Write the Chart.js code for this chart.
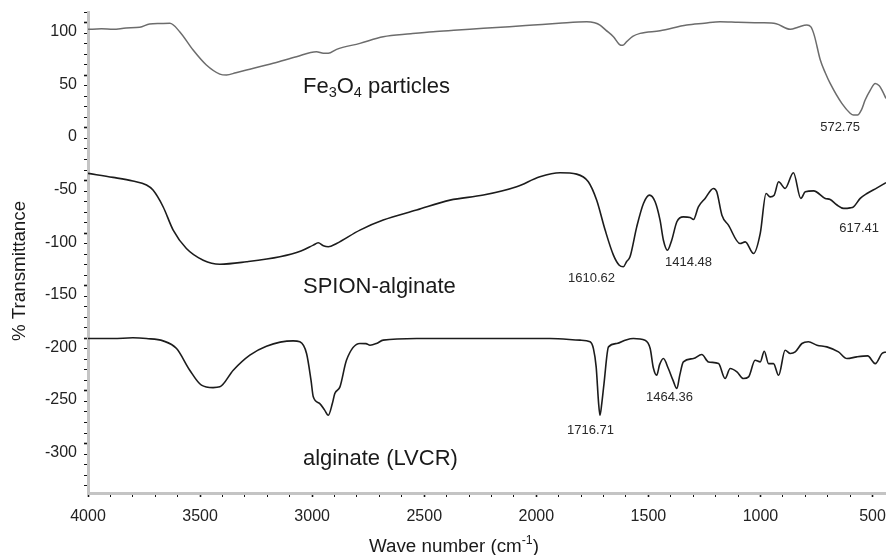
<!DOCTYPE html>
<html>
<head>
<meta charset="utf-8">
<script src="https://cdn.jsdelivr.net/npm/chart.js@4.4.1/dist/chart.umd.min.js"></script>
<style>
  html, body { margin: 0; padding: 0; background: #fff; }
  canvas { display: block; }
</style>
</head>
<body>
<canvas id="ftir" width="886" height="555"></canvas>
<script>
// wave numbers (cm-1) and % transmittance (spectra are offset)
const fe3o4Wn = [4000, 3940, 3888, 3830, 3769, 3725, 3680, 3635, 3591, 3531, 3472, 3412, 3382, 3340, 3293, 3174, 3070, 2981, 2950, 2928, 2891, 2787, 2683, 2560, 2460, 2350, 2236, 2120, 2013, 1900, 1775, 1740, 1716, 1690, 1656, 1630, 1615, 1597, 1570, 1537, 1448, 1329, 1250, 1180, 1100, 1001, 930, 867, 830, 793, 775, 760, 733, 710, 689, 637, 600, 585, 567, 550, 533, 510, 488, 470, 458, 440];
const fe3o4T = [93.7, 94.2, 93.7, 95, 95.6, 98.8, 99.2, 99.4, 91.5, 74, 59.8, 51.2, 50.3, 52.5, 55, 61.4, 67.7, 72.5, 71, 70.9, 74.7, 80.4, 86.7, 89.5, 91.5, 93, 94.7, 96.2, 97.8, 99.5, 101, 100, 97.8, 93, 86.7, 79.5, 78.5, 82, 87, 89.9, 92.4, 97.8, 99.5, 101, 100.5, 100, 99, 93.7, 96, 97.8, 96, 88, 64.5, 52, 42.3, 23.3, 14, 12.2, 12.2, 17, 26.5, 36, 42.3, 40, 36, 28];

const spionWn = [4000, 3888, 3800, 3739, 3710, 3665, 3620, 3561, 3486, 3412, 3293, 3144, 3050, 2995, 2973, 2950, 2928, 2891, 2787, 2683, 2534, 2385, 2236, 2088, 1984, 1894, 1820, 1768, 1731, 1693, 1656, 1630, 1612, 1597, 1582, 1552, 1522, 1495, 1470, 1448, 1433, 1415, 1396, 1373, 1344, 1314, 1299, 1277, 1247, 1210, 1195, 1172, 1143, 1091, 1068, 1031, 1001, 975, 957, 939, 919, 890, 853, 820, 800, 763, 711, 689, 660, 629, 600, 585, 555, 525, 480, 440];
const spionT = [-43.2, -47, -50.5, -54.3, -59.1, -74.9, -97.1, -114.6, -125.7, -129.5, -127.2, -122.5, -117, -111.4, -109.2, -112, -113, -109.8, -97.1, -87.6, -78.1, -68.6, -63.8, -55.9, -46.4, -42.6, -43.9, -51.2, -68.6, -97.1, -120.9, -130.5, -132, -127, -122.5, -94, -71.8, -63.9, -70.2, -87.7, -106.7, -116.2, -106.7, -89.2, -84.5, -85.1, -87, -75, -67, -57.5, -60.7, -82.9, -92.4, -109.9, -108.3, -119.4, -100.3, -62.3, -65.5, -63.9, -51.2, -57.5, -42.6, -67, -60.7, -59.8, -67, -68, -73, -76.5, -76, -75, -67, -62.3, -57, -52];

const alginateWn = [4000, 3888, 3800, 3739, 3665, 3605, 3546, 3494, 3442, 3412, 3352, 3278, 3204, 3085, 3055, 3025, 3005, 2995, 2966, 2945, 2928, 2910, 2899, 2876, 2847, 2787, 2760, 2742, 2713, 2683, 2534, 2236, 1939, 1805, 1760, 1745, 1733, 1722, 1716, 1708, 1698, 1678, 1641, 1600, 1567, 1515, 1492, 1478, 1463, 1450, 1433, 1411, 1390, 1373, 1360, 1344, 1299, 1262, 1232, 1187, 1158, 1135, 1105, 1076, 1053, 1024, 1001, 983, 964, 942, 919, 890, 867, 845, 815, 786, 748, 704, 652, 614, 570, 522, 488, 458, 440];
const alginateT = [-200.2, -200.2, -199.5, -200.2, -202.4, -209.7, -230.3, -244.5, -246.8, -246.1, -230.3, -216, -207.4, -202.4, -203.3, -214.4, -240, -255.6, -262, -268, -273.1, -262, -252.5, -246.1, -220.8, -204.9, -205, -206.5, -204.9, -201.7, -200.2, -200.2, -200.2, -201.7, -203.3, -210, -227.1, -262, -273.1, -262, -243, -208.1, -204.9, -201.5, -200.2, -201.8, -209.7, -228, -235.1, -225, -219.2, -228.7, -240, -247.7, -235, -222.4, -219.2, -215.4, -222.4, -224, -238.2, -228.7, -231.9, -238.2, -236.6, -220.8, -222.4, -212.2, -224, -224, -235.1, -211.3, -214.4, -212.9, -204.9, -203.3, -206.5, -208.1, -212.9, -219.2, -217.6, -216.7, -224, -214.4, -212.9];

// text placed on the plot: [text, wave number, transmittance]
const peakLabels = [
  ['572.75', 645, 0.8],
  ['1610.62', 1754, -142.8],
  ['1414.48', 1321, -127.6],
  ['617.41', 560, -95.2],
  ['1716.71', 1758, -287.3],
  ['1464.36', 1406, -255.9]
];
const sampleLabels = [
  [[['Fe', 0], ['3', 1], ['O', 0], ['4', 1], [' particles', 0]], 3041, 38.9],
  [[['SPION-alginate', 0]], 3041, -151.3],
  [[['alginate (LVCR)', 0]], 3041, -315]
];

const FONT = '"Liberation Sans", Arial, Helvetica, sans-serif';

function toPoints(xs, ys) {
  return xs.map((x, i) => ({ x: x, y: ys[i] }));
}

// draws runs of text, shift 1 = subscript, -1 = superscript
function drawRuns(ctx, runs, x, y, size) {
  let cx = x;
  runs.forEach(([txt, shift]) => {
    const s = shift ? size * 0.66 : size;
    ctx.font = s + 'px ' + FONT;
    const dy = shift === 1 ? size * 0.28 : shift === -1 ? -size * 0.42 : 0;
    ctx.fillText(txt, cx, y + dy);
    cx += ctx.measureText(txt).width;
  });
}

const textPlugin = {
  id: 'texts',
  afterDraw(chart) {
    const ctx = chart.ctx;
    const xs = chart.scales.x, ys = chart.scales.y;
    ctx.save();
    ctx.fillStyle = '#1a1a1a';
    ctx.textBaseline = 'middle';
    ctx.textAlign = 'left';
    sampleLabels.forEach(([runs, wn, t]) => {
      drawRuns(ctx, runs, xs.getPixelForValue(wn), ys.getPixelForValue(t), 22);
    });
    ctx.fillStyle = '#2a2a2a';
    ctx.textAlign = 'center';
    ctx.font = '13px ' + FONT;
    peakLabels.forEach(([txt, wn, t]) => {
      ctx.fillText(txt, xs.getPixelForValue(wn), ys.getPixelForValue(t));
    });

    // axis titles
    ctx.fillStyle = '#1a1a1a';
    ctx.textAlign = 'left';
    ctx.textBaseline = 'alphabetic';
    const xt = [['Wave number (cm', 0], ['-1', -1], [')', 0]];
    let w = 0;
    xt.forEach(([txt, shift]) => {
      ctx.font = (shift ? 18.8 * 0.66 : 18.8) + 'px ' + FONT;
      w += ctx.measureText(txt).width;
    });
    drawRuns(ctx, xt, 454 - w / 2, 552, 18.8);

    ctx.translate(25, 271);
    ctx.rotate(-Math.PI / 2);
    ctx.textAlign = 'center';
    ctx.font = '18.8px ' + FONT;
    ctx.fillText('% Transmittance', 0, 0);
    ctx.restore();
  }
};

const tickStyle = {
  color: '#222',
  font: { family: FONT, size: 16 },
  autoSkip: false,
  maxRotation: 0,
  maxTicksLimit: 1000,
  includeBounds: false
};

new Chart(document.getElementById('ftir').getContext('2d'), {
  type: 'line',
  data: {
    datasets: [
      { data: toPoints(fe3o4Wn, fe3o4T), borderColor: '#6c6c6c', borderWidth: 1.5 },
      { data: toPoints(spionWn, spionT), borderColor: '#1c1c1c', borderWidth: 1.6 },
      { data: toPoints(alginateWn, alginateT), borderColor: '#1c1c1c', borderWidth: 1.6 }
    ]
  },
  options: {
    responsive: false,
    animation: false,
    devicePixelRatio: 1,
    layout: { padding: { top: 12, right: 0, left: 0, bottom: 0 } },
    elements: {
      point: { radius: 0 },
      line: { cubicInterpolationMode: 'monotone' }
    },
    plugins: { legend: { display: false }, tooltip: { enabled: false } },
    scales: {
      x: {
        type: 'linear',
        reverse: true,
        min: 440,
        max: 4000,
        afterFit(scale) {
          scale.height = 62;
          scale.paddingLeft = 0;
          scale.paddingRight = 0;
        },
        ticks: Object.assign({}, tickStyle, {
          stepSize: 100,
          padding: 10,
          callback: v => (v % 500 === 0 ? String(v) : '')
        }),
        grid: {
          drawOnChartArea: false,
          tickLength: 4,
          tickColor: '#111',
          tickWidth: c => (c.tick && c.tick.value % 500 === 0 ? 1.6 : 1)
        },
        border: { color: '#c4c4c4', width: 3 }
      },
      y: {
        min: -347,
        max: 110.2,
        afterFit(scale) {
          scale.width = 88;
          scale.paddingTop = 0;
          scale.paddingBottom = 0;
        },
        ticks: Object.assign({}, tickStyle, {
          stepSize: 10,
          padding: 7,
          labelOffset: 9,
          callback: v => (v % 50 === 0 ? String(v) : '')
        }),
        grid: {
          drawOnChartArea: false,
          tickLength: 4,
          tickColor: '#111',
          tickWidth: c => (c.tick && c.tick.value % 50 === 0 ? 1.6 : 1)
        },
        border: { color: '#c4c4c4', width: 3 }
      }
    }
  },
  plugins: [textPlugin]
});
</script>
</body>
</html>
